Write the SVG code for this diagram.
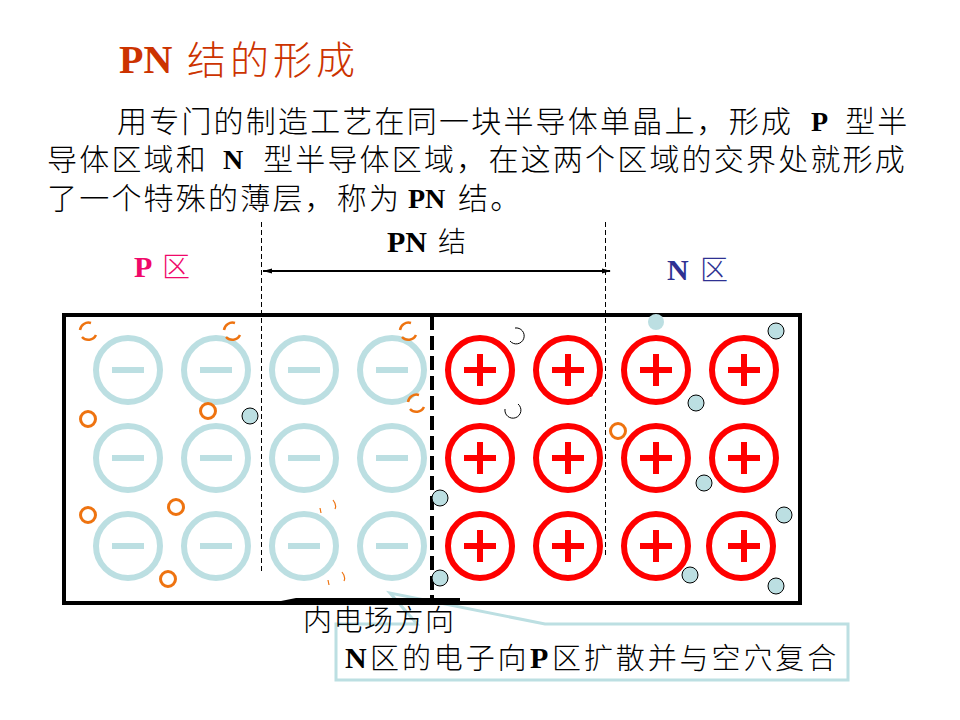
<svg xmlns="http://www.w3.org/2000/svg" width="960" height="720" viewBox="0 0 960 720">
  <style>
    text { font-family: "Liberation Serif", "Noto Sans CJK SC", serif; fill: #000; }
    .cjk { font-family: "Noto Sans CJK SC", sans-serif; font-weight: 300; font-size: 29px; letter-spacing: 2.9px; }
    .para { font-size: 30px; letter-spacing: 2.2px; }
    .b { font-weight: 700; font-family: "Liberation Serif", "Noto Sans CJK SC", serif; font-size: 28px; }
    .title { fill: #cc3300; }
    .pink { fill: #f0086a; }
    .navy { fill: #2e3192; }
    .neg { fill: none; stroke: #bcdfe2; stroke-width: 6; }
    .negbar { fill: #bcdfe2; }
    .pos { fill: none; stroke: #f00; stroke-width: 6; }
    .posbar { fill: #f00; }
    .hole { fill: #fff; stroke: #ee7310; stroke-width: 3; }
    .holearc { fill: none; stroke: #ee7310; stroke-width: 2.5; }
    .elec { fill: #bcdfe2; stroke: #000; stroke-width: 1; }
    .guide { fill: none; stroke: #000; stroke-width: 1; stroke-dasharray: 5 3; }
  </style>
  <defs>
    <g id="anion">
      <circle r="32" class="neg"/>
      <rect x="-16" y="-3" width="32" height="6" class="negbar"/>
    </g>
    <g id="cation">
      <circle r="32" class="pos"/>
      <rect x="-16" y="-3" width="32" height="6" class="posbar"/>
      <rect x="-3" y="-16" width="6" height="32" class="posbar"/>
    </g>
    <path id="brokenhole" d="M3 -8 A8.5 8.5 0 0 0 -8 -1 M-6 6 A8.5 8.5 0 0 0 8 4" class="holearc"/>
  </defs>

  <g id="title">
    <text x="119" y="73" class="b title" style="font-size:40px">PN</text>
    <text x="187" y="74" class="cjk title" style="font-size:39px;letter-spacing:4px">结的形成</text>
  </g>

  <g id="paragraph">
    <text x="117" y="132" class="cjk para">用专门的制造工艺在同一块半导体单晶上，形成</text>
    <text x="811" y="131" class="b">P</text>
    <text x="845" y="132" class="cjk para">型半</text>
    <text x="47" y="170" class="cjk para">导体区域和</text>
    <text x="223" y="169" class="b">N</text>
    <text x="263" y="170" class="cjk para">型半导体区域，在这两个区域的交界处就形成</text>
    <text x="47" y="209" class="cjk para">了一个特殊的薄层，称为</text>
    <text x="408" y="208" class="b">PN</text>
    <text x="458" y="209" class="cjk para">结。</text>
  </g>

  <g id="junction-guides">
    <line x1="261.5" y1="222" x2="261.5" y2="573" class="guide"/>
    <line x1="605.5" y1="222" x2="605.5" y2="556" class="guide"/>
  </g>

  <g id="labels">
    <g id="p-label"><text x="134" y="277" class="b pink" style="font-size:30px">P</text><text x="162" y="277" class="cjk pink" style="font-size:28px">区</text></g>
    <g id="pn-label"><text x="387" y="252" class="b" style="font-size:30px">PN</text><text x="438" y="252" class="cjk" style="font-size:28px">结</text></g>
    <g id="n-label"><text x="667" y="280" class="b navy" style="font-size:30px">N</text><text x="700" y="280" class="cjk navy" style="font-size:28px">区</text></g>
  </g>

  <g id="pn-span">
    <line x1="263" y1="271" x2="610" y2="271" stroke="#000" stroke-width="2"/>
    <path d="M263 271 L272 268.5 V273.5 Z M611 271 L602 268.5 V273.5 Z" fill="#000"/>
  </g>

  <g id="callout">
    <path d="M336 624 H417 L390 593 L545 624 H848 V680 H336 Z" fill="#fff" stroke="#bcdfe2" stroke-width="3"/>
    <text x="345" y="668" class="b" style="font-size:30px">N</text>
    <text x="370" y="669" class="cjk">区的电子向</text>
    <text x="530" y="668" class="b" style="font-size:30px">P</text>
    <text x="552" y="669" class="cjk">区扩散并与空穴复合</text>
  </g>

  <g id="crystal">
    <rect x="64" y="315" width="736" height="288" fill="none" stroke="#000" stroke-width="4"/>
    <line x1="432" y1="316" x2="432" y2="596" stroke="#000" stroke-width="4" stroke-dasharray="14 6"/>
    <path d="M276 602 L296 598 H430 V595 H434 V598 H460 V602 Z" fill="#000"/>
  </g>

  <g id="anions">
    <use href="#anion" x="128" y="370"/><use href="#anion" x="216" y="370"/><use href="#anion" x="304" y="370"/><use href="#anion" x="392" y="370"/>
    <use href="#anion" x="128" y="458"/><use href="#anion" x="216" y="458"/><use href="#anion" x="304" y="458"/><use href="#anion" x="392" y="458"/>
    <use href="#anion" x="128" y="546"/><use href="#anion" x="216" y="546"/><use href="#anion" x="304" y="546"/><use href="#anion" x="392" y="546"/>
  </g>

  <g id="cations">
    <use href="#cation" x="480" y="370"/><use href="#cation" x="568" y="370"/><use href="#cation" x="656" y="370"/><use href="#cation" x="744" y="370"/>
    <use href="#cation" x="480" y="458"/><use href="#cation" x="568" y="458"/><use href="#cation" x="656" y="458"/><use href="#cation" x="744" y="458"/>
    <use href="#cation" x="480" y="546"/><use href="#cation" x="568" y="546"/><use href="#cation" x="656" y="546"/>
    <circle cx="741" cy="546" r="32" class="pos"/><rect x="728" y="543" width="32" height="6" class="posbar"/><rect x="741" y="530" width="6" height="32" class="posbar"/>
    <circle cx="590" cy="394" r="3" fill="#f00"/>
  </g>

  <g id="holes">
    <circle cx="88" cy="419" r="7.5" class="hole"/><circle cx="208" cy="411" r="7.5" class="hole"/>
    <circle cx="88" cy="515" r="7.5" class="hole"/><circle cx="176" cy="507" r="7.5" class="hole"/>
    <circle cx="168" cy="579" r="7.5" class="hole"/><circle cx="618" cy="431" r="7.5" class="hole"/>
    <use href="#brokenhole" x="88" y="331"/><use href="#brokenhole" x="232" y="331"/>
    <use href="#brokenhole" x="408" y="331"/><use href="#brokenhole" x="416" y="403"/>
    <path d="M333 500 Q337 505 335 509 M320 508 L321 513 M342 572 Q346 577 344 581 M328 580 L329 585" class="holearc" style="stroke-width:1.2"/>
  </g>

  <g id="electrons">
    <circle cx="250" cy="416" r="8" class="elec"/>
    <circle cx="656" cy="322" r="8" class="elec" style="stroke:none"/>
    <circle cx="776" cy="331" r="8" class="elec"/>
    <circle cx="696" cy="403" r="8" class="elec"/>
    <circle cx="704" cy="483" r="8" class="elec"/>
    <circle cx="784" cy="515" r="8" class="elec"/>
    <circle cx="690" cy="575" r="8" class="elec"/>
    <circle cx="776" cy="586" r="8" class="elec"/>
    <circle cx="440" cy="498" r="8" class="elec"/>
    <circle cx="440" cy="578" r="8" class="elec"/>
    <path d="M515 328 A8 8 0 1 1 510 341 M505 409 A8 8 0 1 0 518 404" fill="none" stroke="#000" stroke-width="1"/>
  </g>

  <g id="field-label">
    <text x="303" y="631" class="cjk" style="letter-spacing:1.5px">内电场方向</text>
  </g>
</svg>
